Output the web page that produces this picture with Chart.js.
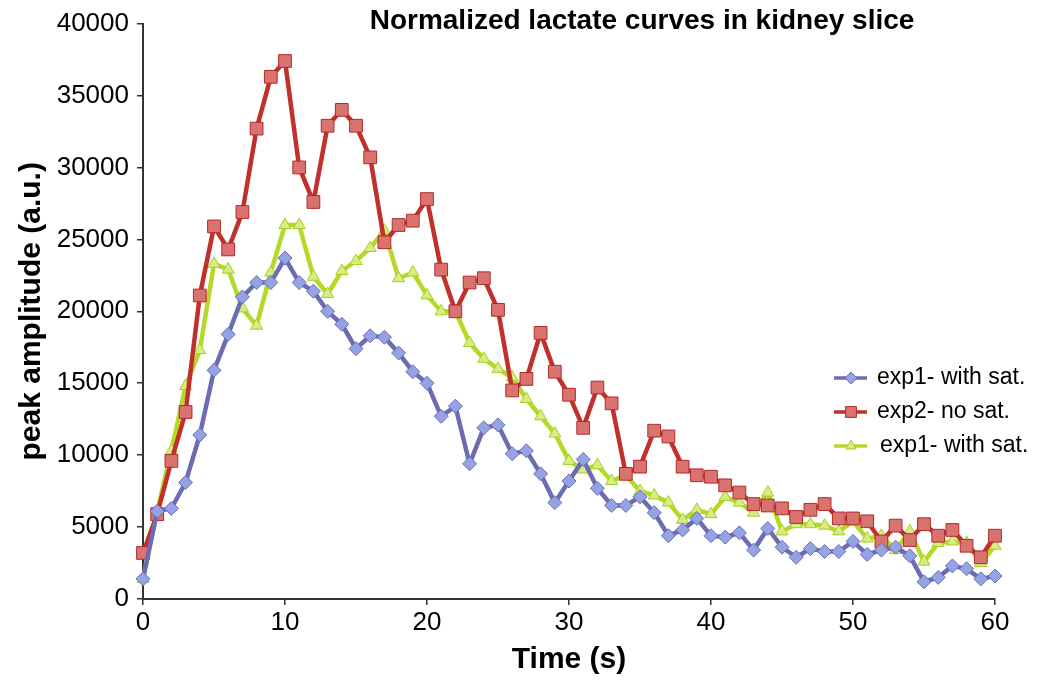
<!DOCTYPE html>
<html>
<head>
<meta charset="utf-8">
<script src="https://cdn.jsdelivr.net/npm/chart.js@4/dist/chart.umd.min.js"></script>
<style>
  html, body { margin: 0; padding: 0; background: #fff; }
  #wrap { position: relative; width: 1050px; height: 698px; }
</style>
</head>
<body>
<div id="wrap"><canvas id="lactateChart"></canvas></div>
<script>
// time points (s)
const times = [0,1,2,3,4,5,6,7,8,9,10,11,12,13,14,15,16,17,18,19,20,
  21,22,23,24,25,26,27,28,29,30,31,32,33,34,35,36,37,38,39,40,
  41,42,43,44,45,46,47,48,49,50,51,52,53,54,55,56,57,58,59,60];

// exp1 - with sat. (blue diamonds)
const exp1Sat = [1400,6100,6300,8100,11400,15900,18400,21000,22000,22000,23700,
  22000,21400,20000,19100,17400,18300,18200,17100,15800,15000,
  12700,13400,9400,11900,12100,10100,10300,8700,6700,8200,
  9700,7700,6500,6500,7100,6000,4400,4800,5600,4400,
  4300,4600,3400,4900,3600,2900,3500,3300,3300,4000,
  3100,3400,3600,3000,1200,1500,2300,2100,1400,1600];

// exp2 - no sat. (red squares)
const exp2NoSat = [3200,5900,9600,13000,21100,25900,24300,26900,32700,36300,37400,
  30000,27600,32900,34000,32900,30700,24800,26000,26300,27800,
  22900,20000,22000,22300,20100,14500,15300,18500,15800,14200,
  11900,14700,13600,8700,9200,11700,11300,9200,8600,8500,
  7900,7400,6600,6500,6300,5700,6200,6600,5600,5600,
  5400,4000,5100,4100,5200,4400,4800,3700,2900,4400];

// exp1 - with sat. (green triangles)
const exp1Sat2 = [1400,6100,10300,14800,17300,23300,22900,20200,19000,22700,26000,
  26000,22400,21200,22800,23500,24400,25600,22300,22700,21100,
  20000,20000,17800,16700,16000,15400,13900,12700,11500,9600,
  9000,9300,8200,8600,7500,7200,6700,5500,6200,5900,
  7100,6700,6000,7400,4700,5200,5200,5100,4700,5400,
  4200,4400,3400,4700,2600,3900,4000,3900,2500,3700];

const seriesNames = ['exp1- with sat.', 'exp2- no sat.', 'exp1- with sat.'];
const xTicks = [0,10,20,30,40,50,60];
const yTicks = [0,5000,10000,15000,20000,25000,30000,35000,40000];

const FONT = "'Liberation Sans', Arial, sans-serif";

function pts(vals) {
  return times.map((t, i) => ({x: t, y: vals[i]}));
}

// title + legend sit on top of the plot, like in the original figure
const overlay = {
  id: 'overlay',
  afterDraw(chart) {
    const ctx = chart.ctx;
    ctx.save();
    ctx.fillStyle = '#000';
    ctx.font = "bold 28px " + FONT;
    ctx.textAlign = 'center';
    ctx.textBaseline = 'middle';
    ctx.fillText('Normalized lactate curves in kidney slice', 642, 21);

    ctx.font = "23px " + FONT;
    ctx.textAlign = 'left';
    const rows = [378, 412, 446];
    chart.data.datasets.forEach((ds, i) => {
      const y = rows[i];
      ctx.strokeStyle = ds.borderColor;
      ctx.lineWidth = 3.5;
      ctx.beginPath();
      ctx.moveTo(834, y);
      ctx.lineTo(867, y);
      ctx.stroke();
      ctx.fillStyle = ds.pointBackgroundColor;
      ctx.strokeStyle = ds.pointBorderColor;
      ctx.lineWidth = 1;
      Chart.helpers.drawPoint(ctx, {pointStyle: ds.pointStyle, rotation: 0, borderWidth: 1, radius: ds.pointRadius * 0.85}, 851, y);
      ctx.fillStyle = '#000';
      ctx.fillText(seriesNames[i], i === 2 ? 880 : 877, y);
    });
    ctx.restore();
  }
};

new Chart(document.getElementById('lactateChart'), {
  type: 'line',
  data: {
    datasets: [{
      label: seriesNames[0],
      data: pts(exp1Sat),
      borderColor: '#6d6cb3',
      borderWidth: 4.5,
      pointStyle: 'rectRot',
      pointRadius: 7,
      pointBackgroundColor: '#93a3e3',
      pointBorderColor: '#6d6cb3',
      pointBorderWidth: 1,
      clip: false,
      tension: 0
    }, {
      label: seriesNames[1],
      data: pts(exp2NoSat),
      borderColor: '#c2302b',
      borderWidth: 4.5,
      pointStyle: 'rect',
      pointRadius: 9,
      pointBackgroundColor: '#d9736f',
      pointBorderColor: '#b32a26',
      pointBorderWidth: 1,
      clip: false,
      tension: 0
    }, {
      label: seriesNames[2],
      data: pts(exp1Sat2),
      borderColor: '#b5d927',
      borderWidth: 4.5,
      pointStyle: 'triangle',
      pointRadius: 7,
      pointBackgroundColor: '#d8ec86',
      pointBorderColor: '#a6cf1e',
      pointBorderWidth: 1,
      clip: false,
      tension: 0
    }]
  },
  options: {
    responsive: true,
    maintainAspectRatio: false,
    animation: false,
    layout: { padding: { left: 0, right: 55, top: 21, bottom: 0 } },
    plugins: {
      legend: { display: false },
      title: { display: false },
      tooltip: { enabled: false }
    },
    scales: {
      x: {
        type: 'linear',
        min: 0,
        max: 60,
        afterFit(s) { s.height = 99; },
        afterBuildTicks(s) { s.ticks = xTicks.map(v => ({value: v})); },
        border: { display: true, color: '#333', width: 2 },
        grid: { drawOnChartArea: false, drawTicks: true, tickLength: 6, color: '#333', lineWidth: 1.5 },
        ticks: { color: '#000', font: { family: FONT, size: 26 }, padding: 2, callback: v => String(v) },
        title: {
          display: true,
          text: 'Time (s)',
          color: '#000',
          font: { family: FONT, size: 30, weight: 'bold' },
          padding: { top: 0, bottom: 20 }
        }
      },
      y: {
        min: 0,
        max: 40000,
        afterFit(s) { s.width = 143; },
        afterBuildTicks(s) { s.ticks = yTicks.map(v => ({value: v})); },
        border: { display: true, color: '#333', width: 2 },
        grid: { drawOnChartArea: false, drawTicks: true, tickLength: 6, color: '#333', lineWidth: 1.5 },
        ticks: { color: '#000', font: { family: FONT, size: 26 }, padding: 8, callback: v => String(v) },
        title: {
          display: true,
          text: 'peak amplitude (a.u.)',
          color: '#000',
          font: { family: FONT, size: 30, weight: 'bold' },
          padding: { top: 14, bottom: 0 }
        }
      }
    }
  },
  plugins: [overlay]
});
</script>
</body>
</html>
